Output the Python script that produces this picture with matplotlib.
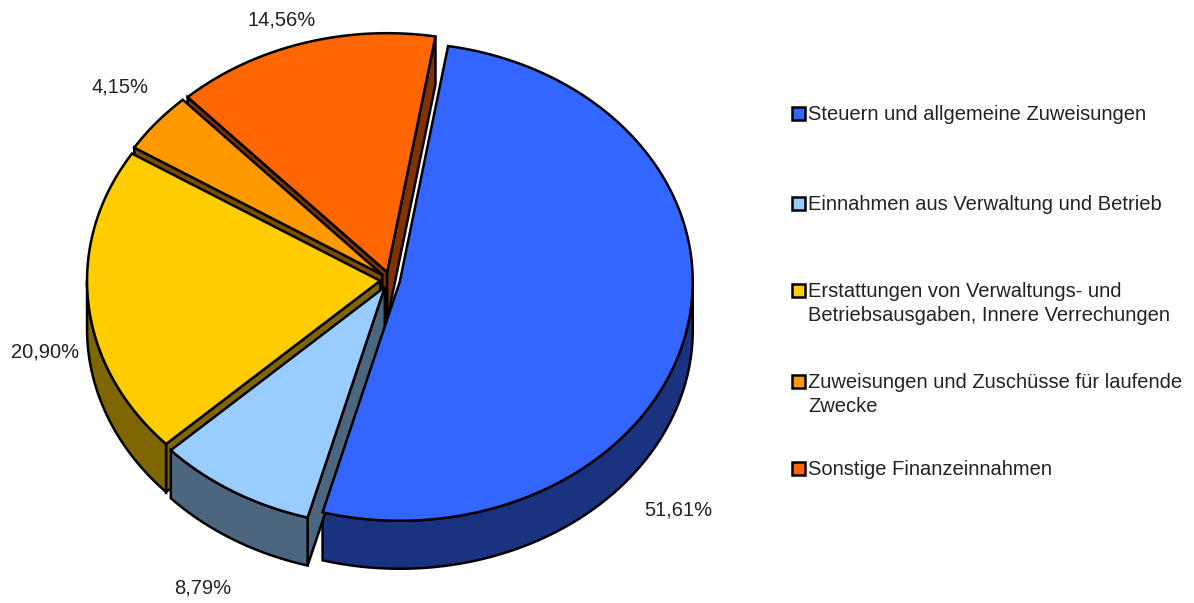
import numpy as np
import matplotlib
matplotlib.use("Agg")
import matplotlib.pyplot as plt
from matplotlib.patches import Polygon, Rectangle

# ---- data ----
categories = [
    "Steuern und allgemeine Zuweisungen",
    "Einnahmen aus Verwaltung und Betrieb",
    "Erstattungen von Verwaltungs- und\nBetriebsausgaben, Innere Verrechungen",
    "Zuweisungen und Zuschüsse für laufende\nZwecke",
    "Sonstige Finanzeinnahmen",
]
values = [51.61, 8.79, 20.90, 4.15, 14.56]
value_labels = ["51,61%", "8,79%", "20,90%", "4,15%", "14,56%"]

top_colors = ["#3366FF", "#99CCFF", "#FFCC00", "#FF9900", "#FF6600"]
side_colors = ["#1A3380", "#4D6680", "#806600", "#804C00", "#803300"]

# ---- layout ----
W, H = 1194, 603
cx, cy = 390, 280
rx, ry = 293, 239
depth = 48
explode = 10
start_deg = 9.5
FONT = "Liberation Sans"

fig = plt.figure(figsize=(W / 100, H / 100), dpi=100)
ax = fig.add_axes([0, 0, 1, 1])
ax.set_xlim(0, W)
ax.set_ylim(H, 0)
ax.axis("off")

total = sum(values)
spans = [v / total * 360 for v in values]
starts = np.concatenate([[start_deg], start_deg + np.cumsum(spans)[:-1]])


def pt(theta_deg, ox, oy, r=1.0, dz=0.0):
    t = np.radians(theta_deg)
    return (cx + ox + r * rx * np.sin(t), cy + oy - r * ry * np.cos(t) + dz)


slices = []
for i, (a0, sp) in enumerate(zip(starts, spans)):
    a1 = a0 + sp
    mid = np.radians(a0 + sp / 2)
    ox = explode * np.sin(mid)
    oy = -explode * np.cos(mid) * ry / rx
    slices.append((i, a0, a1, ox, oy, -np.cos(mid)))

lw = 1.8
# walls, back to front
for i, a0, a1, ox, oy, key in sorted(slices, key=lambda s: s[5]):
    sc = side_colors[i]
    apex_t = (cx + ox, cy + oy)
    apex_b = (cx + ox, cy + oy + depth)
    if np.sin(np.radians(a0)) < 0:
        p_t = pt(a0, ox, oy)
        p_b = pt(a0, ox, oy, dz=depth)
        ax.add_patch(Polygon([apex_t, p_t, p_b, apex_b], closed=True, fc=sc, ec="black", lw=lw, zorder=2))
    if np.sin(np.radians(a1)) > 0:
        p_t = pt(a1, ox, oy)
        p_b = pt(a1, ox, oy, dz=depth)
        ax.add_patch(Polygon([apex_t, p_t, p_b, apex_b], closed=True, fc=sc, ec="black", lw=lw, zorder=2))
    for off in (0, 360, -360):
        lo = max(a0, 90 + off)
        hi = min(a1, 270 + off)
        if hi > lo:
            th = np.linspace(lo, hi, 80)
            top = [pt(t, ox, oy) for t in th]
            bot = [pt(t, ox, oy, dz=depth) for t in th[::-1]]
            ax.add_patch(Polygon(top + bot, closed=True, fc=sc, ec="black", lw=lw, zorder=2))

# top faces
for i, a0, a1, ox, oy, key in sorted(slices, key=lambda s: s[5]):
    th = np.linspace(a0, a1, 200)
    poly = [(cx + ox, cy + oy)] + [pt(t, ox, oy) for t in th]
    ax.add_patch(Polygon(poly, closed=True, fc=top_colors[i], ec="black", lw=lw, zorder=3))

# value labels (positions in pixels, layout only)
label_pos = [(678, 510), (203, 588), (45, 352), (120, 87), (282, 20)]
for txt, (x, y) in zip(value_labels, label_pos):
    ax.text(x, y, txt, ha="center", va="center", fontsize=14.5, family=FONT, color="#222222", zorder=5)

# legend
leg_x = 792
leg_rows = [113, 203, 290, 381, 468]
for i, (lab, y) in enumerate(zip(categories, leg_rows)):
    ax.add_patch(Rectangle((leg_x, y - 6.5), 13, 13, fc=top_colors[i], ec="black", lw=1.8, zorder=5))
    ax.text(leg_x + 16, y - 8, lab, ha="left", va="top", fontsize=14.5, family=FONT,
            color="#222222", linespacing=1.35, zorder=5)

fig.savefig("out.png", dpi=100)
